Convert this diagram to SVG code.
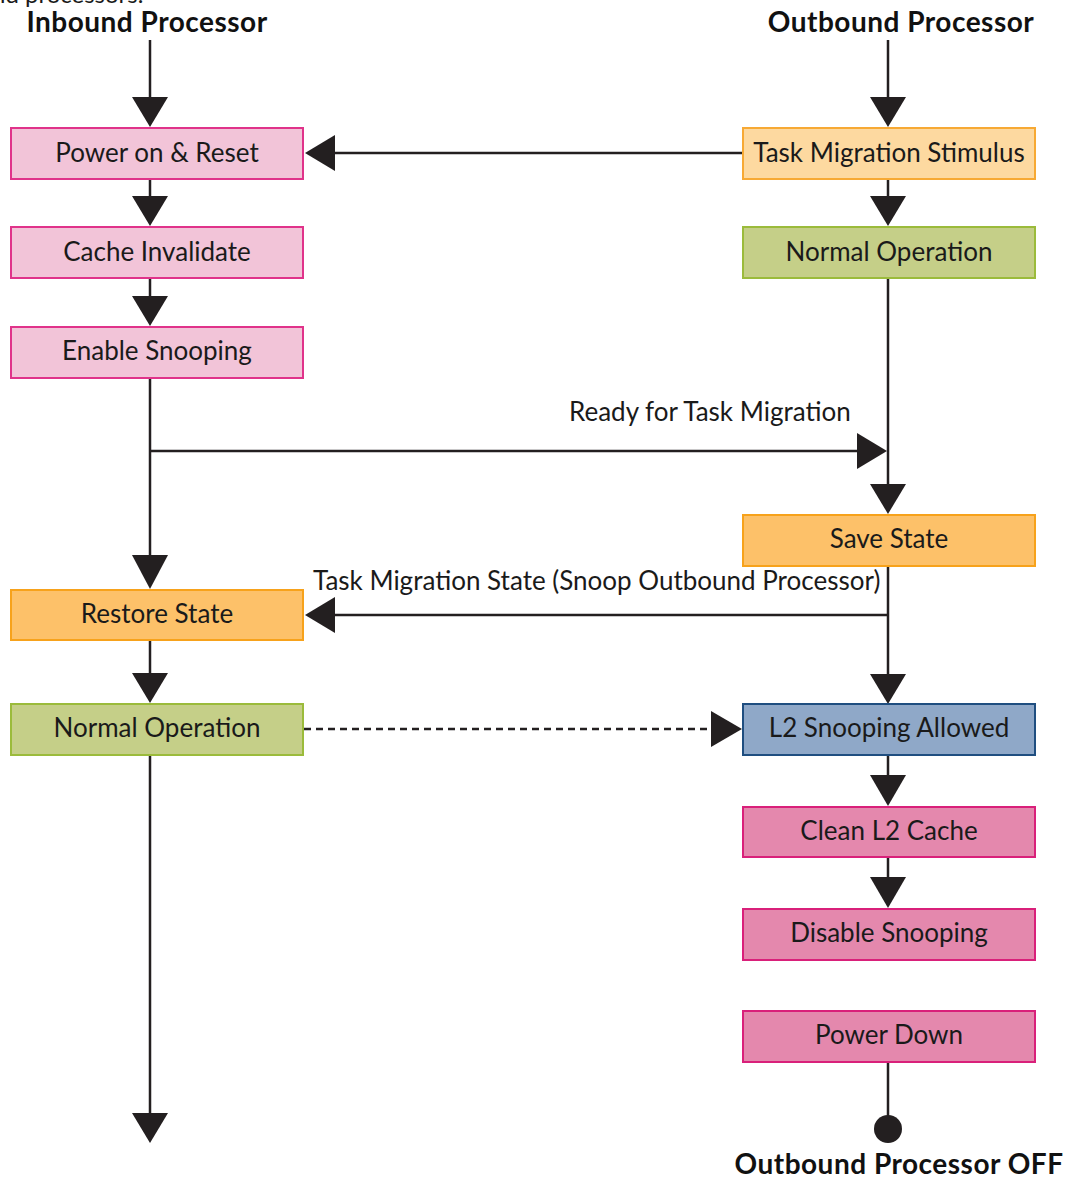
<svg xmlns="http://www.w3.org/2000/svg" width="1069" height="1180" viewBox="0 0 1069 1180">
<style>
text{font-family:Lato,"Open Sans","Liberation Sans",sans-serif;fill:#1a1a1a}
.t{font-size:26px;text-anchor:middle}
.h{font-size:28px;font-weight:bold;text-anchor:middle;fill:#111;letter-spacing:0.5px}
.l{font-size:26px}
.f{font-size:24px}
.b rect{stroke-width:2}
.pk rect{fill:#f2c4d8;stroke:#e0338a}
.pd rect{fill:#e488ad;stroke:#d9207a}
.or rect{fill:#fdc169;stroke:#f7a21b}
.ol rect{fill:#fdd9a0;stroke:#f7a934}
.gr rect{fill:#c5cf88;stroke:#9bbb3b}
.bl rect{fill:#8fa8c8;stroke:#1f4e80}
.ln{stroke:#231f20;stroke-width:2.5;fill:none}
.ah{fill:#231f20}
</style>
<text x="-8" y="3" class="f">nd processors.</text>
<text x="147" y="32" class="h">Inbound Processor</text>
<text x="901" y="32" class="h">Outbound Processor</text>
<text x="899" y="1174" class="h">Outbound Processor OFF</text>
<g id="connectors">
<line class="ln" x1="150" y1="40" x2="150" y2="100"/>
<polygon class="ah" points="132,97 168,97 150,127"/>
<line class="ln" x1="888" y1="40" x2="888" y2="100"/>
<polygon class="ah" points="870,97 906,97 888,127"/>
<line class="ln" x1="743" y1="153" x2="330" y2="153"/>
<polygon class="ah" points="335,135 335,171 305,153"/>
<line class="ln" x1="150" y1="179" x2="150" y2="200"/>
<polygon class="ah" points="132,196 168,196 150,226"/>
<line class="ln" x1="888" y1="179" x2="888" y2="200"/>
<polygon class="ah" points="870,196 906,196 888,226"/>
<line class="ln" x1="150" y1="278" x2="150" y2="300"/>
<polygon class="ah" points="132,296 168,296 150,326"/>
<line class="ln" x1="888" y1="278" x2="888" y2="490"/>
<line class="ln" x1="150" y1="378" x2="150" y2="560"/>
<line class="ln" x1="150" y1="451" x2="860" y2="451"/>
<polygon class="ah" points="857,433 857,469 887,451"/>
<polygon class="ah" points="870,484 906,484 888,514"/>
<polygon class="ah" points="132,555 168,555 150,589"/>
<line class="ln" x1="888" y1="566" x2="888" y2="680"/>
<line class="ln" x1="888" y1="615" x2="330" y2="615"/>
<polygon class="ah" points="335,597 335,633 305,615"/>
<polygon class="ah" points="870,674 906,674 888,704"/>
<line class="ln" x1="150" y1="640" x2="150" y2="680"/>
<polygon class="ah" points="132,673 168,673 150,703"/>
<line class="ln" x1="304" y1="729" x2="712" y2="729" stroke-dasharray="7,5"/>
<polygon class="ah" points="711,711 711,747 742,729"/>
<line class="ln" x1="888" y1="755" x2="888" y2="780"/>
<polygon class="ah" points="870,775 906,775 888,806"/>
<line class="ln" x1="888" y1="857" x2="888" y2="880"/>
<polygon class="ah" points="870,877 906,877 888,908"/>
<line class="ln" x1="150" y1="755" x2="150" y2="1115"/>
<polygon class="ah" points="132,1113 168,1113 150,1143"/>
<line class="ln" x1="888" y1="1062" x2="888" y2="1120"/>
<circle class="ah" cx="888" cy="1129" r="14"/>
</g>
<g id="n-power-on" class="b pk"><rect x="11" y="128" width="292" height="51"/><text class="t" x="157" y="162">Power on &amp; Reset</text></g>
<g id="n-cache-inv" class="b pk"><rect x="11" y="227" width="292" height="51"/><text class="t" x="157" y="261">Cache Invalidate</text></g>
<g id="n-enable-snoop" class="b pk"><rect x="11" y="327" width="292" height="51"/><text class="t" x="157" y="360">Enable Snooping</text></g>
<g id="n-restore" class="b or"><rect x="11" y="590" width="292" height="50"/><text class="t" x="157" y="623">Restore State</text></g>
<g id="n-normal-in" class="b gr"><rect x="11" y="704" width="292" height="51"/><text class="t" x="157" y="737">Normal Operation</text></g>
<g id="n-stimulus" class="b ol"><rect x="743" y="128" width="292" height="51"/><text class="t" x="889" y="162">Task Migration Stimulus</text></g>
<g id="n-normal-out" class="b gr"><rect x="743" y="227" width="292" height="51"/><text class="t" x="889" y="261">Normal Operation</text></g>
<g id="n-save" class="b or"><rect x="743" y="515" width="292" height="51"/><text class="t" x="889" y="548">Save State</text></g>
<g id="n-l2allowed" class="b bl"><rect x="743" y="704" width="292" height="51"/><text class="t" x="889" y="737">L2 Snooping Allowed</text></g>
<g id="n-clean" class="b pd"><rect x="743" y="807" width="292" height="50"/><text class="t" x="889" y="840">Clean L2 Cache</text></g>
<g id="n-disable" class="b pd"><rect x="743" y="909" width="292" height="51"/><text class="t" x="889" y="942">Disable Snooping</text></g>
<g id="n-powerdown" class="b pd"><rect x="743" y="1011" width="292" height="51"/><text class="t" x="889" y="1044">Power Down</text></g>
<text x="569" y="421" class="l">Ready for Task Migration</text>
<text x="313" y="590" class="l">Task Migration State (Snoop Outbound Processor)</text>
</svg>
